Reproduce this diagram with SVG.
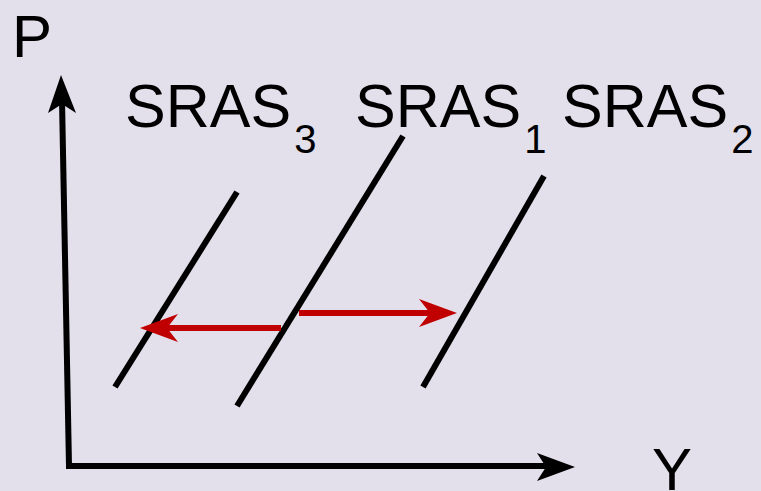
<svg xmlns="http://www.w3.org/2000/svg" width="761" height="491" viewBox="0 0 761 491">
<style>
.t{font-family:"Liberation Sans",Arial,sans-serif;font-size:60px;fill:#000}
.m{font-size:61px}
.s{font-size:40px}
.k{stroke:#000;stroke-width:6;fill:none}
.r{stroke:#c00000;stroke-width:6;fill:none}
</style>
<rect width="761" height="491" fill="#e3dfeb"/>
<g id="axes">
<line class="k" x1="69" y1="466" x2="62" y2="100"/>
<polygon points="61,75 76,113 62,104 48,113" fill="#000"/>
<line class="k" x1="66" y1="466" x2="550" y2="466"/>
<polygon points="575,467 537,481 546,467 537,453" fill="#000"/>
</g>
<g id="sras3"><line class="k" x1="115" y1="387" x2="237" y2="192"/></g>
<g id="sras1"><line class="k" x1="237" y1="406" x2="403" y2="136"/></g>
<g id="sras2"><line class="k" x1="423" y1="387" x2="544" y2="176"/></g>
<g id="connectors">
<line class="r" x1="281" y1="328" x2="165" y2="328"/>
<polygon points="140,328 178,314 167,328 178,342" fill="#c00000"/>
<line class="r" x1="299" y1="313" x2="432" y2="313"/>
<polygon points="457,313 419,299 430,313 419,327" fill="#c00000"/>
</g>
<g id="labels">
<text class="t" x="12" y="57">P</text>
<text class="t" x="652" y="490">Y</text>
<text class="t m" x="125" y="127">SRAS<tspan class="s" dx="3" y="153">3</tspan></text>
<text class="t m" x="355" y="127">SRAS<tspan class="s" dx="3" y="153">1</tspan></text>
<text class="t m" x="562" y="127">SRAS<tspan class="s" dx="3" y="153">2</tspan></text>
</g>
</svg>
